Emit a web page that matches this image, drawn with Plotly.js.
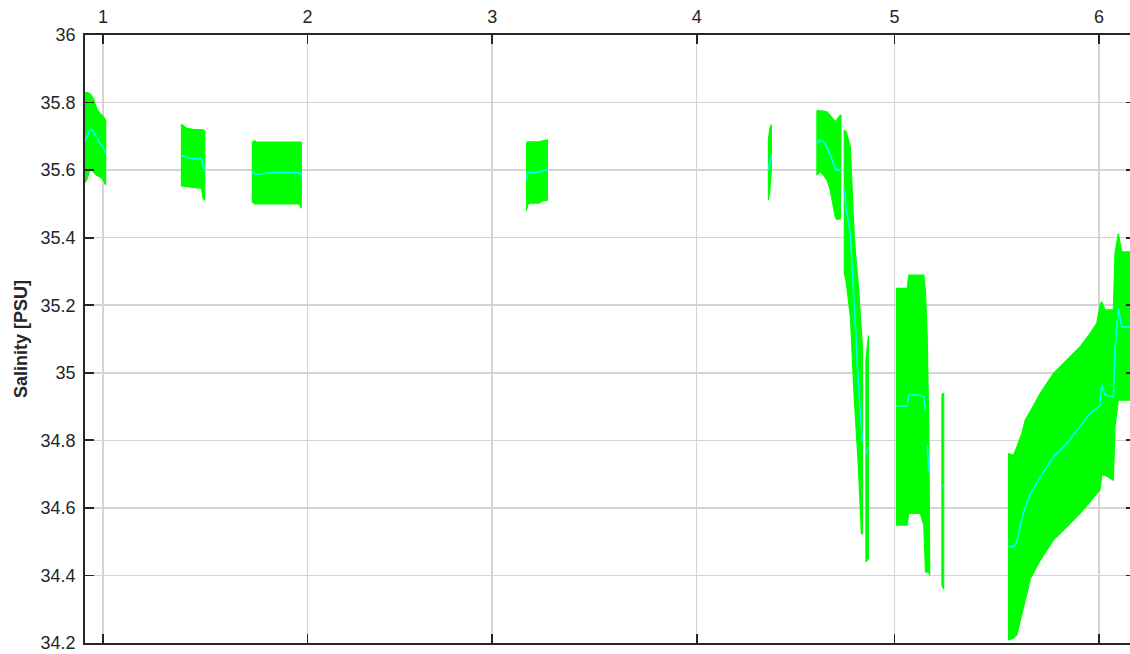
<!DOCTYPE html>
<html>
<head>
<meta charset="utf-8">
<script src="https://cdn.plot.ly/plotly-3.0.1.min.js"></script>
<style>
  html, body { margin: 0; padding: 0; overflow: hidden; background: #fff; }
  #chart { width: 1160px; height: 654px; }
</style>
</head>
<body>
<div id="chart"></div>
<script>
// Time in days since 2015-01-01 00:00; null separates sampling runs.
const day = [
  -2.98, -2.47, -1.97, -1.71, -1.47, -0.95, -0.45, 0.05, 0.41, null,
  11.90, 12.25, 12.66, 13.66, 14.93, 15.18, 15.43, null,
  22.65, 23.00, 23.25, 25.76, 29.55, 29.80, 30.06, null,
  64.22, 64.37, 64.61, 65.12, 66.11, 66.62, 67.37, null,
  100.88, 101.10, 101.33, null,
  108.23, 108.73, 109.24, 109.75, 110.25, 110.76, 111.01, 111.27, 111.52, 111.78, 111.88, null,
  112.38, 112.69, 113.30, 113.91, 114.52, 114.97, 115.13, null,
  115.66, 116.04, null,
  120.30, 121.92, 122.16, 123.90, 124.43, 124.69, 124.80, 124.95, 125.19, 125.34, null,
  127.18, 127.45, null,
  137.28, 138.04, 138.55, 139.31, 139.81, 140.31, 140.57, 142.08, 144.09, 146.12, 148.13,
  149.64, 150.66, 151.15, 151.41, 151.91, 153.17, 153.42, 153.92, 154.44, 155.70, 158.00
];

// Upper edge of the salinity spread [PSU]
const salUpper = [
  35.829, 35.830, 35.827, 35.820, 35.813, 35.783, 35.768, 35.758, 35.748, null,
  35.736, 35.731, 35.724, 35.721, 35.719, 35.719, 35.714, null,
  35.684, 35.687, 35.683, 35.683, 35.683, 35.683, 35.683, null,
  35.681, 35.684, 35.684, 35.684, 35.684, 35.687, 35.689, null,
  35.689, 35.725, 35.734, null,
  35.776, 35.776, 35.775, 35.773, 35.763, 35.750, 35.743, 35.750, 35.758, 35.763, 35.761, null,
  35.719, 35.713, 35.668, 35.393, 35.255, 35.136, 35.077, null,
  35.040, 35.110, null,
  35.250, 35.250, 35.289, 35.289, 35.289, 35.240, 35.170, 35.110, 34.840, 34.410, null,
  34.935, 34.940, null,
  34.761, 34.756, 34.781, 34.821, 34.860, 34.875, 34.885, 34.939, 34.998, 35.038, 35.077,
  35.117, 35.146, 35.200, 35.210, 35.186, 35.186, 35.354, 35.413, 35.358, 35.358, 35.358
];

// Lower edge of the salinity spread [PSU]
const salLower = [
  35.556, 35.571, 35.600, 35.605, 35.595, 35.585, 35.580, 35.571, 35.556, null,
  35.553, 35.552, 35.551, 35.549, 35.546, 35.516, 35.511, null,
  35.506, 35.500, 35.500, 35.500, 35.500, 35.500, 35.487, null,
  35.480, 35.497, 35.502, 35.502, 35.502, 35.509, 35.511, null,
  35.511, 35.541, 35.600, null,
  35.585, 35.595, 35.585, 35.571, 35.541, 35.492, 35.462, 35.454, 35.455, 35.456, 35.457, null,
  35.295, 35.266, 35.166, 34.919, 34.722, 34.524, 34.524, null,
  34.440, 34.450, null,
  34.549, 34.549, 34.584, 34.584, 34.550, 34.410, 34.410, 34.410, 34.410, 34.400, null,
  34.370, 34.360, null,
  34.209, 34.215, 34.224, 34.288, 34.330, 34.366, 34.390, 34.445, 34.505, 34.544, 34.584,
  34.618, 34.643, 34.653, 34.697, 34.697, 34.682, 34.840, 34.919, 34.919, 34.919, 34.919
];

// Mean salinity [PSU]
const salMean = [
  35.684, 35.694, 35.719, 35.721, 35.714, 35.694, 35.679, 35.665, 35.650, null,
  35.645, 35.641, 35.638, 35.634, 35.633, 35.615, 35.598, null,
  35.595, 35.590, 35.588, 35.592, 35.592, 35.592, 35.580, null,
  35.571, 35.592, 35.592, 35.592, 35.594, 35.598, 35.600, null,
  35.600, 35.620, 35.645, null,
  35.679, 35.689, 35.684, 35.669, 35.645, 35.620, 35.605, 35.600, 35.600, 35.603, 35.605, null,
  35.541, 35.482, 35.414, 35.170, 34.970, 34.840, 34.796, null,
  34.760, 34.780, null,
  34.902, 34.902, 34.934, 34.934, 34.929, 34.889, null, 34.786, 34.707, null, null,
  34.665, 34.665, null,
  34.485, 34.485, 34.500, 34.570, 34.600, 34.625, 34.640, 34.692, 34.751, 34.791, 34.840,
  34.880, 34.895, 34.904, 34.964, 34.934, 34.929, 35.070, 35.191, 35.136, 35.136, 35.136
];

const monthTicks = ['2015-01-01', '2015-02-01', '2015-03-01', '2015-04-01', '2015-05-01', '2015-06-01'];
const monthLabels = ['1', '2', '3', '4', '5', '6'];
const salTicks = [34.2, 34.4, 34.6, 34.8, 35, 35.2, 35.4, 35.6, 35.8, 36];
const salTickLabels = ['34.2', '34.4', '34.6', '34.8', '35', '35.2', '35.4', '35.6', '35.8', '36'];

const BASE = Date.UTC(2015, 0, 1);
function toDate(d) {
  return new Date(BASE + d * 86400000).toISOString().slice(0, 19).replace('T', ' ');
}

// One closed polygon per run: upper edge forward, lower edge back.
const bandX = [], bandY = [];
let run = [];
function flushRun() {
  if (!run.length) return;
  run.forEach(i => { bandX.push(toDate(day[i])); bandY.push(salUpper[i]); });
  run.slice().reverse().forEach(i => { bandX.push(toDate(day[i])); bandY.push(salLower[i]); });
  bandX.push(toDate(day[run[0]])); bandY.push(salUpper[run[0]]);
  bandX.push(null); bandY.push(null);
  run = [];
}
day.forEach((d, i) => { if (d === null) flushRun(); else run.push(i); });
flushRun();

const band = {
  type: 'scatter', mode: 'lines',
  x: bandX, y: bandY,
  fill: 'toself', fillcolor: '#00ff00',
  line: { color: '#00ff00', width: 1.2 },
  connectgaps: false, hoverinfo: 'skip', showlegend: false
};

const mean = {
  type: 'scatter', mode: 'lines',
  x: day.map(d => d === null ? null : toDate(d)),
  y: salMean,
  line: { color: '#00ffff', width: 1.6 },
  connectgaps: false, showlegend: false
};

const axisColor = '#262626';
const tickFont = { family: 'Liberation Sans, Arial, Helvetica, sans-serif', size: 18, color: '#262626' };

const layout = {
  width: 1160, height: 654,
  margin: { l: 85, r: 25, t: 35, b: 11 },
  paper_bgcolor: '#ffffff', plot_bgcolor: '#ffffff',
  showlegend: false,
  xaxis: {
    type: 'date', side: 'top',
    range: [toDate(-2.72), toDate(156.45)],
    tickmode: 'array', tickvals: monthTicks, ticktext: monthLabels,
    ticks: 'inside', ticklen: 9, tickwidth: 1.8, tickcolor: axisColor,
    showline: true, linecolor: axisColor, linewidth: 1.8, mirror: 'ticks',
    showgrid: true, gridcolor: '#d4d4d4', gridwidth: 1.5,
    zeroline: false, tickfont: tickFont, ticklabelstandoff: 3
  },
  yaxis: {
    range: [34.2, 36],
    tickmode: 'array', tickvals: salTicks, ticktext: salTickLabels,
    ticks: 'inside', ticklen: 9, tickwidth: 1.8, tickcolor: axisColor,
    showline: true, linecolor: axisColor, linewidth: 1.8, mirror: 'ticks',
    showgrid: true, gridcolor: '#d4d4d4', gridwidth: 1.5,
    zeroline: false, tickfont: tickFont, ticklabelstandoff: 4,
    title: {
      text: '<b>Salinity [PSU]</b>',
      font: { family: 'Liberation Sans, Arial, Helvetica, sans-serif', size: 18, color: '#262626' },
      standoff: 8
    }
  }
};

Plotly.newPlot('chart', [band, mean], layout, { displayModeBar: false, staticPlot: true });
</script>
</body>
</html>
